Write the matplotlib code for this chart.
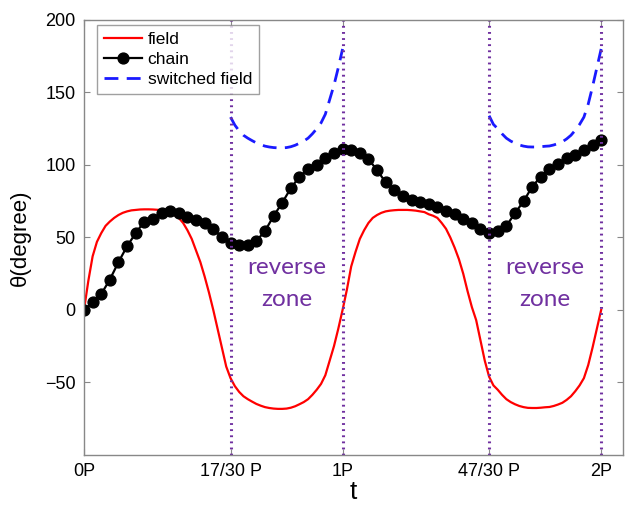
import numpy as np
import matplotlib.pyplot as plt

# field is sampled every P/60, chain every P/30 (time in units of the period P)
t_field = np.arange(121) / 60
t_chain = np.arange(61) / 30

field = [0, 20, 37, 47, 53, 58, 61, 63.5, 65.5, 67, 68, 68.7, 69, 69.3, 69.4,
         69.4, 69.3, 69.1, 68.8, 68.2, 67, 65.5, 63.5, 60, 55, 49, 41, 33, 23, 12,
         0, -13, -26, -39, -47, -52.5, -56.5, -59.5, -61.5, -63.2, -64.8, -66, -67, -67.6, -68,
         -68.2, -68.2, -68, -67.4, -66.4, -65, -63.5, -61.5, -58.5, -55, -51, -45, -35, -25, -13,
         0, 14, 30, 40, 49, 55, 60, 63.5, 65.5, 67, 68, 68.5, 68.8, 69, 69,
         69, 68.8, 68.5, 68, 67.5, 66, 65, 63.5, 60, 56, 50, 43, 35, 25, 13,
         2, -7, -21, -35, -46, -52, -55, -58.5, -61.5, -63.5, -65, -66.2, -67, -67.5, -67.6,
         -67.6, -67.4, -67.1, -66.9, -66.2, -65.2, -64, -62, -59.5, -56, -52, -47, -38, -26, -13,
         0]

chain = [0, 5.3, 11, 21, 33, 44, 53, 61, 63, 67, 68, 67, 64, 62, 60,
         56, 50, 46.5, 44.7, 44.7, 47.6, 54.5, 64.8, 74, 84, 92, 97, 100, 105, 108,
         111, 110.6, 108, 104, 96.5, 88, 83, 78.6, 76, 74.5, 73, 71, 68.5, 66, 63,
         60, 56, 53.4, 54.5, 58, 66.7, 75, 85, 92, 97, 101, 105, 107, 110.6, 114,
         117.5]

# switched field inside the two reverse zones (17/30 P .. 1P and 47/30 P .. 2P)
zone1 = slice(34, 61)
zone2 = slice(94, 121)
switched1 = [133, 127.5, 123.5, 120.5, 118.5, 116.8, 115.2, 114, 113, 112.4, 112, 111.8, 111.8, 112,
             112.6, 113.6, 115, 116.5, 118.5, 121.5, 125, 129, 135, 145, 155, 167, 180]
switched2 = [134, 128, 125, 121.5, 118.5, 116.5, 115, 113.8, 113, 112.5, 112.4, 112.4, 112.6, 112.9,
             113.1, 113.8, 114.8, 116, 118, 120.5, 124, 128, 133, 142, 154, 167, 180]

zone_lines = [17 / 30, 1, 47 / 30, 2]
xtick_pos = [0, 17 / 30, 1, 47 / 30, 2]
xtick_lab = ['0P', '17/30 P', '1P', '47/30 P', '2P']
ytick_pos = [-50, 0, 50, 100, 150, 200]

plt.rcParams['font.family'] = ['Liberation Sans', 'DejaVu Sans']
purple = '#7030A0'
blue = '#1a1aff'

fig = plt.figure(figsize=(6.25, 5.07), dpi=100)
ax = fig.add_axes([0.1344, 0.1026, 0.8626, 0.858])

ax.plot(t_field, field, color='red', lw=1.6, label='field')
ax.plot(t_chain, chain, color='black', lw=1.6, marker='o', ms=7.8, label='chain')
ax.plot(t_field[zone1], switched1, color=blue, lw=2, ls=(0, (5, 3)), label='switched field')
ax.plot(t_field[zone2], switched2, color=blue, lw=2, ls=(0, (5, 3)))

for xl in zone_lines:
    ax.axvline(xl, color=purple, lw=2.2, ls=(0, (0.6, 1.4)))

for xc in [(17 / 30 + 1) / 2, (47 / 30 + 2) / 2]:
    ax.text(xc, 29, 'reverse', color=purple, fontsize=17.5, family=['Lato', 'DejaVu Sans'],
            ha='center', va='center')
    ax.text(xc, 7, 'zone', color=purple, fontsize=17.5, family=['Lato', 'DejaVu Sans'],
            ha='center', va='center')

ax.set_xlim(0, 2.085)
ax.set_ylim(-100, 200)
ax.set_xticks(xtick_pos)
ax.set_xticklabels(xtick_lab)
ax.set_yticks(ytick_pos)
ax.tick_params(direction='in', length=4, width=0.8, color='#888888',
               top=True, right=True, labelsize=13, pad=6)
for sp in ax.spines.values():
    sp.set_color('#888888')
    sp.set_linewidth(1)

ax.set_xlabel('t', fontsize=19, labelpad=0)
ax.set_ylabel('θ(degree)', fontsize=16, labelpad=10)

leg = ax.legend(loc='upper left', fontsize=12.5, handlelength=2.2, borderpad=0.4,
                labelspacing=0.28, handletextpad=0.3, fancybox=False,
                bbox_to_anchor=(0.018, 0.997), borderaxespad=0.2)
leg.get_frame().set_edgecolor('#888888')
leg.get_frame().set_linewidth(1)

fig.savefig('out.png')
